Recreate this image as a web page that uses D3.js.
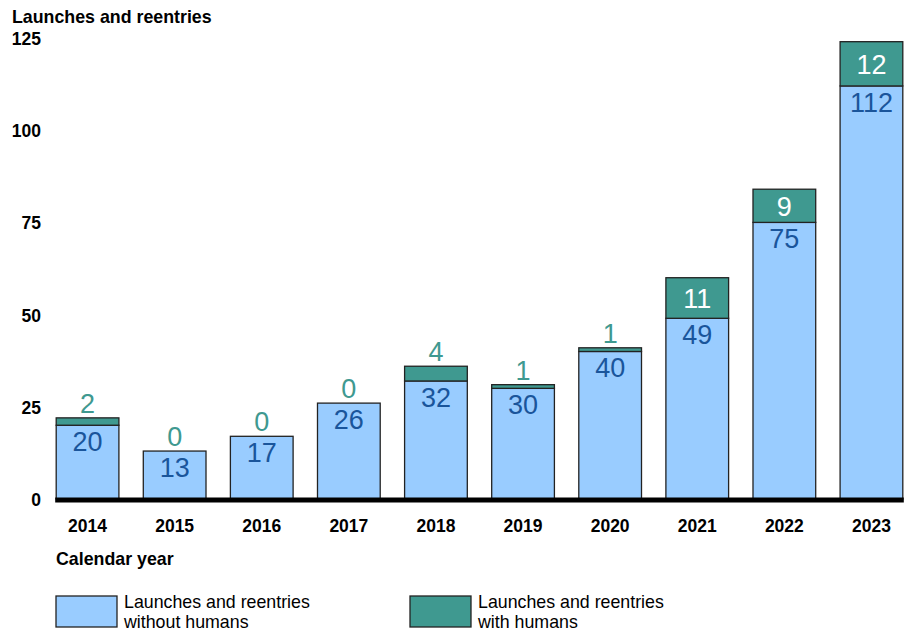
<!DOCTYPE html>
<html>
<head>
<meta charset="utf-8">
<script src="https://cdn.jsdelivr.net/npm/d3@7"></script>
<style>
  body { margin: 0; background: #fff; font-family: "Liberation Sans", Arial, sans-serif; }
</style>
</head>
<body>
<svg id="chart" width="905" height="633"></svg>
<script>
const years = ["2014", "2015", "2016", "2017", "2018", "2019", "2020", "2021", "2022", "2023"];
const withoutHumans = [20, 13, 17, 26, 32, 30, 40, 49, 75, 112];
const withHumans = [2, 0, 0, 0, 4, 1, 1, 11, 9, 12];
const yTicks = [0, 25, 50, 75, 100, 125];

const lightBlue = "#99ccff";
const teal = "#3f9990";
const darkBlue = "#1a559b";
const tealText = "#3f9990";

const svg = d3.select("#chart");

const x = d3.scaleBand().domain(years).range([44, 915]).paddingInner(0.28).paddingOuter(0.14);
const y = d3.scaleLinear().domain([0, 125]).range([499, 38]);

// title
svg.append("text")
    .attr("x", 12).attr("y", 23)
    .attr("font-size", 17.8).attr("font-weight", "bold")
    .text("Launches and reentries");

// y tick labels
svg.selectAll(".ytick")
    .data(yTicks)
    .enter()
    .append("text")
    .attr("class", "ytick")
    .attr("x", 41)
    .attr("y", d => y(d) + 7)
    .attr("text-anchor", "end")
    .attr("font-size", 17.5).attr("font-weight", "bold")
    .text(d => d);

const bars = svg.selectAll(".bar")
    .data(years.map((yr, i) => ({ yr, a: withoutHumans[i], b: withHumans[i] })))
    .enter()
    .append("g")
    .attr("class", "bar");

bars.append("rect")
    .attr("x", d => x(d.yr))
    .attr("y", d => y(d.a))
    .attr("width", x.bandwidth())
    .attr("height", d => y(0) - y(d.a))
    .attr("fill", lightBlue)
    .attr("stroke", "#222").attr("stroke-width", 1.3);

bars.filter(d => d.b > 0)
    .append("rect")
    .attr("x", d => x(d.yr))
    .attr("y", d => y(d.a + d.b))
    .attr("width", x.bandwidth())
    .attr("height", d => y(d.a) - y(d.a + d.b))
    .attr("fill", teal)
    .attr("stroke", "#222").attr("stroke-width", 1.3);

// value labels for the blue part
bars.append("text")
    .attr("x", d => x(d.yr) + x.bandwidth() / 2)
    .attr("y", d => y(d.a) + 26)
    .attr("text-anchor", "middle")
    .attr("font-size", 27)
    .attr("fill", darkBlue)
    .text(d => d.a);

// labels for the teal part: inside if large enough, above otherwise
bars.append("text")
    .attr("x", d => x(d.yr) + x.bandwidth() / 2)
    .attr("y", d => d.b >= 5 ? (y(d.a) + y(d.a + d.b)) / 2 + 10 : y(d.a + d.b) - 5)
    .attr("text-anchor", "middle")
    .attr("font-size", 27)
    .attr("fill", d => d.b >= 5 ? "#fff" : tealText)
    .text(d => d.b);

// baseline
svg.append("line")
    .attr("x1", x(years[0]) - 1).attr("x2", x(years[years.length - 1]) + x.bandwidth() + 1)
    .attr("y1", y(0) + 1).attr("y2", y(0) + 1)
    .attr("stroke", "#000").attr("stroke-width", 5);

// x labels
svg.selectAll(".xlab")
    .data(years)
    .enter()
    .append("text")
    .attr("x", d => x(d) + x.bandwidth() / 2)
    .attr("y", 532)
    .attr("text-anchor", "middle")
    .attr("font-size", 17.5).attr("font-weight", "bold")
    .text(d => d);

svg.append("text")
    .attr("x", 56).attr("y", 565)
    .attr("font-size", 17.8).attr("font-weight", "bold")
    .text("Calendar year");

// legend
const legend = [
    { color: lightBlue, lines: ["Launches and reentries", "without humans"], x: 56 },
    { color: teal, lines: ["Launches and reentries", "with humans"], x: 410 }
];
const lg = svg.selectAll(".legend")
    .data(legend)
    .enter()
    .append("g")
    .attr("class", "legend")
    .attr("transform", d => `translate(${d.x},596)`);
lg.append("rect")
    .attr("width", 61).attr("height", 31)
    .attr("fill", d => d.color)
    .attr("stroke", "#222").attr("stroke-width", 1.3);
lg.append("text")
    .attr("x", 68).attr("y", 12)
    .attr("font-size", 17.8)
    .selectAll("tspan")
    .data(d => d.lines)
    .enter()
    .append("tspan")
    .attr("x", 68)
    .attr("dy", (d, i) => i === 0 ? 0 : 20)
    .text(d => d);
</script>
</body>
</html>
